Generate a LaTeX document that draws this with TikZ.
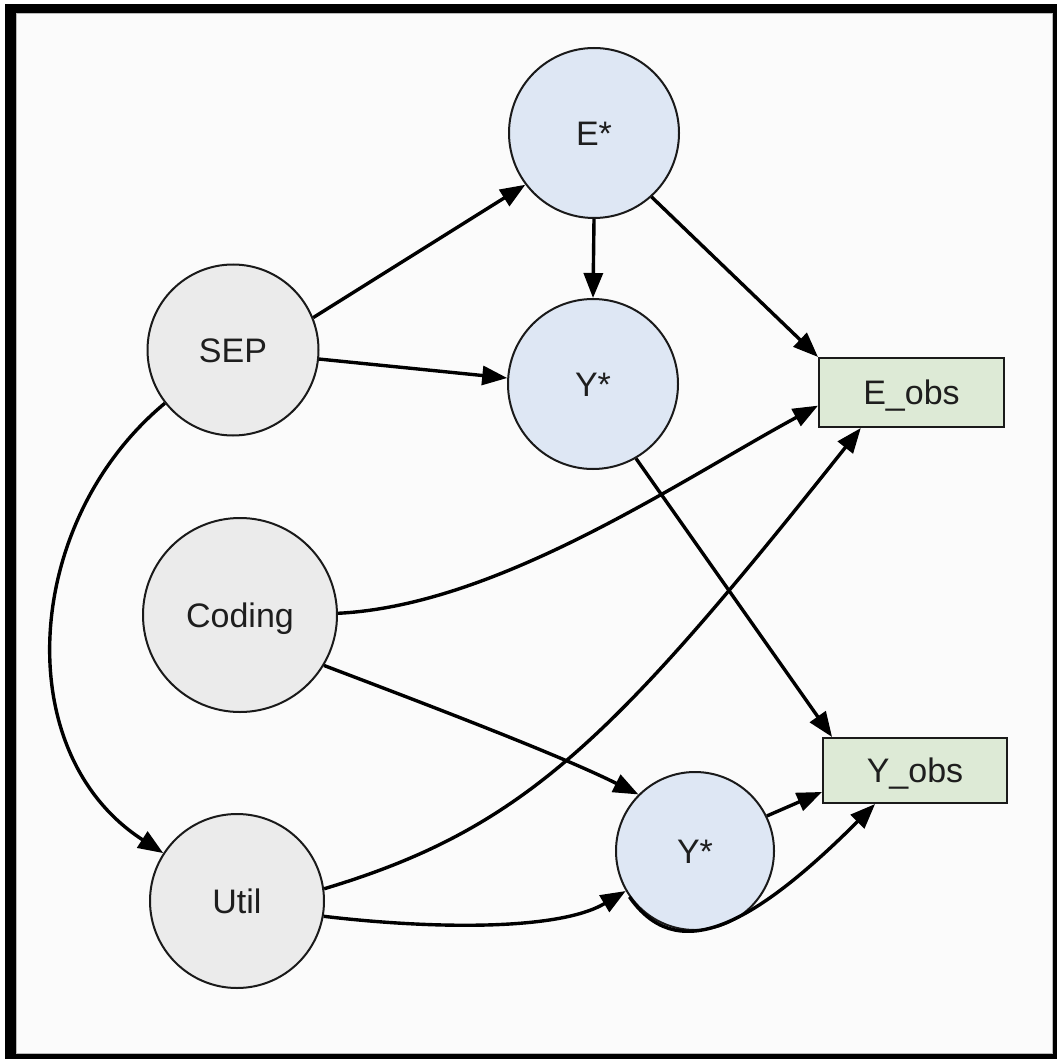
\documentclass[tikz,border=0pt]{standalone}
\usepackage{fontspec}
\setmainfont{Liberation Sans}
\usetikzlibrary{arrows.meta}

\definecolor{exogray}{HTML}{EBEBEB}
\definecolor{latblue}{HTML}{DEE7F4}
\definecolor{obsgreen}{HTML}{DDEAD6}
\definecolor{inkline}{HTML}{1A1A1A}
\definecolor{paper}{HTML}{FBFBFB}
\definecolor{labelink}{HTML}{1E1E1E}

\begin{document}
\begin{tikzpicture}[x=1pt,y=-1pt,
  varnode/.style={circle, draw=inkline, line width=2pt, inner sep=0pt,
    text height=24.5pt, text depth=0pt, text=labelink,
    font=\fontsize{34}{40}\selectfont},
  exo/.style={varnode, fill=exogray},
  latent/.style={varnode, fill=latblue},
  obs/.style={rectangle, draw=inkline, line width=2pt, fill=obsgreen,
    inner sep=0pt, text height=24.5pt, text depth=0pt, text=labelink,
    font=\fontsize{34}{40}\selectfont},
  edge/.style={line width=3.4pt, draw=black, -{Triangle[length=25pt,width=19pt]}}
]
% page, frame
\useasboundingbox (0,0) rectangle (1057,1059);
\fill[white] (0,0) rectangle (1057,1059);
\fill[black] (5,4) rectangle (1057,1059);
\fill[paper] (16,13) rectangle (1053,1054);
\draw[gray!55, line width=0.8pt] (16.5,13.5) rectangle (1052.5,1053.5);

% exogenous causes
\node[exo, minimum size=171pt] (sep)    at (233,350) {SEP};
\node[exo, minimum size=194pt] (coding) at (240,615) {Coding};
\node[exo, minimum size=174pt] (util)   at (237,901) {Util};

% latent variables
\node[latent, minimum size=170pt] (estar)  at (594,133) {E*};
\node[latent, minimum size=170pt] (ystart) at (593,384) {Y*};
\node[latent, minimum size=158pt] (ystarb) at (695,851) {Y*};

% observed outcomes
\node[obs, minimum width=185pt, minimum height=69pt] (eobs) at (911.5,392.5) {E\_obs};
\node[obs, minimum width=184pt, minimum height=65pt] (yobs) at (915,770.5) {Y\_obs};

% connectors
\draw[edge] (sep.22) -- (estar.217);
\draw[edge] (sep.354) -- (ystart.176);
\draw[edge] (sep.218) .. controls +(-142,118) and +(-155,-100) .. (util.147);
\draw[edge] (estar.south) -- (ystart.north);
\draw[edge] (estar.312) -- (eobs.north west);
\draw[edge] (coding.1) .. controls +(160,-8) and +(-140,76) .. (eobs.188);
\draw[edge] (coding.329) .. controls +(100,38) and +(-80,-40) .. (ystarb.135);
\draw[edge] (util.8) .. controls +(200,-60) and +(-248,312) .. (eobs.215);
\draw[edge] (util.350) .. controls +(100,12) and +(-69,41) .. (ystarb.210);
\draw[edge] (ystart.300) -- (yobs.158);
\draw[edge] (ystarb.26) -- (yobs.193);
\draw[edge] (ystarb.215) .. controls +(46,66) and +(-128,128) .. (yobs.220);
\end{tikzpicture}
\end{document}
